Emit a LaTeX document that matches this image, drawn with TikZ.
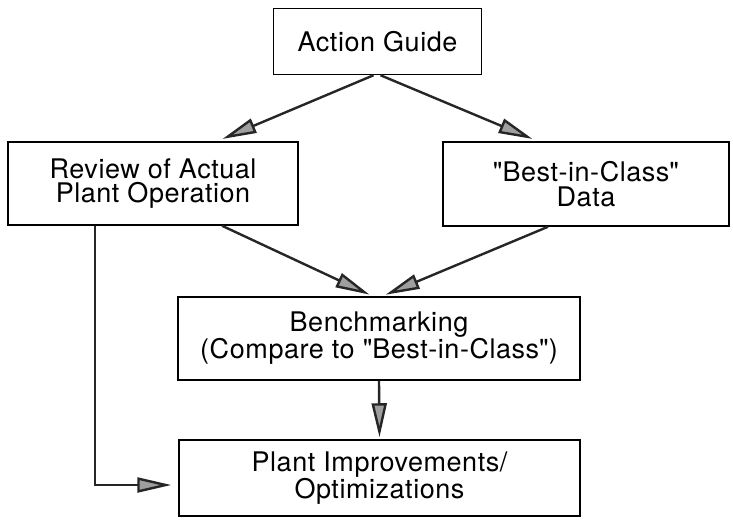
\documentclass[tikz,border=0pt]{standalone}
\usepackage{fontspec}
\setmainfont{TeX Gyre Heros}[LetterSpace=2]
\usetikzlibrary{arrows.meta}

\begin{document}
\begin{tikzpicture}[x=1pt, y=-1pt,
  box/.style={draw, line width=1.5pt, rectangle, align=center, inner sep=0pt,
    font=\fontsize{27}{24.5}\selectfont},
  flow/.style={line width=2.4pt, black!85,
    -{Triangle[length=34pt, width=15pt, fill=gray!75]}}]
  \useasboundingbox (0, 0) rectangle (733, 519);

  % boxes
  \node[box, minimum width=208, minimum height=66] (guide) at (377.5, 41.5) {Action Guide};
  \node[box, minimum width=290, minimum height=83] (review) at (153, 183.5) {Review of Actual\\Plant Operation};
  \node[box, minimum width=286, minimum height=84] (best) at (586, 184) {\textquotedbl Best-in-Class\textquotedbl\\Data};
  \node[box, minimum width=402, minimum height=83] (bench) at (379, 338.5) {Benchmarking\\(Compare to \textquotedbl Best-in-Class\textquotedbl)};
  \node[box, minimum width=401, minimum height=76] (plant) at (379.5, 478) {Plant Improvements/\\Optimizations};

  % action guide to the two inputs
  \draw[flow, shorten >=6pt] ([xshift=-4]guide.south) -- ([xshift=64]review.north);
  \draw[flow, shorten >=6pt] ([xshift=3]guide.south) -- ([xshift=-48]best.north);

  % inputs to benchmarking
  \draw[flow, shorten >=4pt] ([xshift=69]review.south) -- ([xshift=-6]bench.north);
  \draw[flow, shorten >=4pt] ([xshift=-38]best.south) -- ([xshift=3]bench.north);

  % benchmarking to improvements
  \draw[flow, shorten >=2pt] (bench.south) -- (plant.north);

  % direct path from review
  \draw[flow, shorten >=7pt] ([xshift=-58]review.south) |- ([yshift=-7]plant.west);
\end{tikzpicture}
\end{document}
